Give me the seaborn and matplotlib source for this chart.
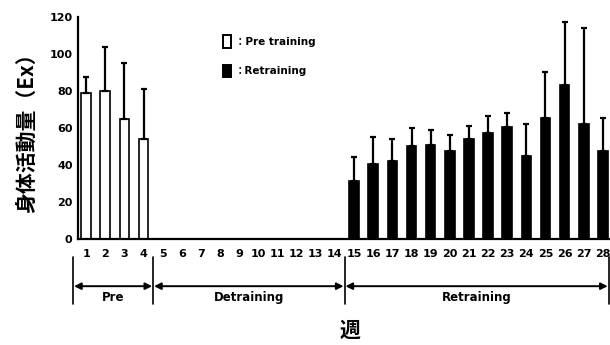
import numpy as np
import pandas as pd
import matplotlib
matplotlib.use("Agg")
import matplotlib.pyplot as plt
import seaborn as sns
from matplotlib.patches import Patch

# ---- data ----
pre_weeks = [1, 2, 3, 4]
pre_values = [79, 80, 65, 54]
pre_err = [8.5, 24, 30, 27]

re_weeks = list(range(15, 29))
re_values = [31.5, 40.5, 42, 50.5, 51, 47.5, 54, 57.5, 60.5, 45, 65.5, 83, 62, 47.5]
re_err = [13, 14.5, 12, 9.5, 8, 8.5, 7, 9, 7.5, 17, 24.5, 34, 52, 18]

tick_weeks = list(range(1, 29))
phases = ["Pre", "Detraining", "Retraining"]
phase_bounds = [(0.32, 4.5), (4.5, 14.5), (14.5, 28.3)]
legend_labels = ["：Pre training", "：Retraining"]
ylabel = "身体活動量（Ex）"
xlabel = "週"

df = pd.DataFrame({
    "week": pre_weeks + re_weeks,
    "value": pre_values + re_values,
    "phase": ["Pre training"] * len(pre_weeks) + ["Retraining"] * len(re_weeks),
})

sns.set_style("white")
plt.rcParams["font.family"] = ["DejaVu Sans", "Noto Sans CJK JP"]
for k in ["text.color", "axes.labelcolor", "xtick.color", "ytick.color"]:
    plt.rcParams[k] = "black"

fig = plt.figure(figsize=(6.1, 3.45), dpi=100)
ax = fig.add_axes([0.128, 0.307, 0.872, 0.644])

sns.barplot(data=df, x="week", y="value", hue="phase", native_scale=True,
            palette={"Pre training": "white", "Retraining": "black"},
            edgecolor="black", linewidth=1.2, width=0.5, dodge=False,
            legend=False, ax=ax)

for w, v, e in [(pre_weeks, pre_values, pre_err), (re_weeks, re_values, re_err)]:
    ax.errorbar(w, v, yerr=[np.zeros(len(e)), e], fmt="none", ecolor="black",
                elinewidth=1.6, capsize=2, capthick=1.6, zorder=1)

ax.set_xlim(0.58, 28.37)
ax.set_ylim(0, 120)
ax.set_yticks(np.arange(0, 121, 20))
ax.set_yticklabels([str(t) for t in range(0, 121, 20)], fontsize=8, fontweight="bold")
ax.set_xticks(tick_weeks)
ax.set_xticklabels([str(t) for t in tick_weeks], fontsize=8, fontweight="bold")
ax.tick_params(axis="x", length=0, pad=7)
ax.tick_params(axis="y", length=0, pad=4)
ax.set_xlabel("")
ax.set_ylabel(ylabel, fontsize=15, fontweight="bold", family=["Noto Sans CJK JP"],
              labelpad=9, color="black")
for s in ["top", "right"]:
    ax.spines[s].set_visible(False)
for s in ["left", "bottom"]:
    ax.spines[s].set_color("black")
    ax.spines[s].set_linewidth(1.6)

trans = ax.get_xaxis_transform()
edges = sorted(set([b for pb in phase_bounds for b in pb]))
for xb in edges:
    ax.plot([xb, xb], [-0.08, -0.29], transform=trans, color="black",
            lw=1.2, clip_on=False)
for name, (a, b) in zip(phases, phase_bounds):
    ax.annotate("", xy=(a + 0.05, -0.212), xytext=(b - 0.05, -0.212),
                xycoords=trans, textcoords=trans,
                arrowprops=dict(arrowstyle="<|-|>", color="black", lw=1.4,
                                mutation_scale=10, shrinkA=0, shrinkB=0))
    ax.text((a + b) / 2, -0.262, name, transform=trans, ha="center", va="center",
            fontsize=8.5, fontweight="bold", color="black")

ax.text(14.8, -0.41, xlabel, transform=trans, ha="center", va="center",
        fontsize=15, fontweight="bold", family=["Noto Sans CJK JP"], color="black")

handles = [Patch(facecolor="white", edgecolor="black", linewidth=1.4),
           Patch(facecolor="black", edgecolor="black", linewidth=1.4)]
leg = ax.legend(handles, legend_labels, loc="upper left", bbox_to_anchor=(0.255, 0.96),
                frameon=False, handlelength=0.75, handleheight=1.5, handletextpad=0.4,
                labelspacing=1.6, prop={"size": 7.5, "weight": "bold",
                                        "family": ["DejaVu Sans", "Noto Sans CJK JP"]})
for t in leg.get_texts():
    t.set_color("black")

fig.savefig("out.png", dpi=100)
